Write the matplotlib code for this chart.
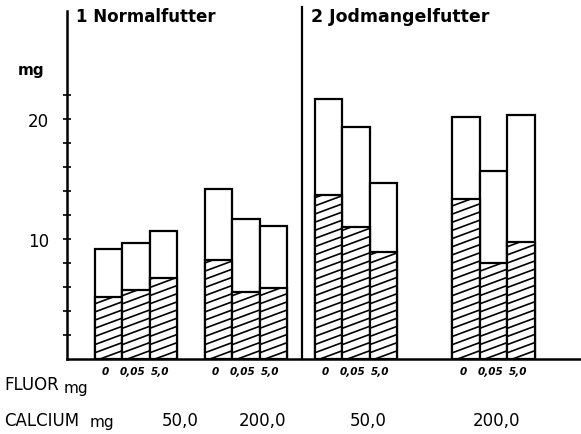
import numpy as np
import matplotlib
matplotlib.use("Agg")
import matplotlib.pyplot as plt

# ---- data (mg) ----
groups = ["Normal Ca50", "Normal Ca200", "Jod Ca50", "Jod Ca200"]
fluor_labels = ["0", "0,05", "5,0"]
calcium_labels = ["50,0", "200,0", "50,0", "200,0"]
total_normal_50 = [9.2, 9.7, 10.7]
hatch_normal_50 = [5.2, 5.75, 6.75]
total_normal_200 = [14.2, 11.7, 11.1]
hatch_normal_200 = [8.25, 5.6, 5.9]
total_jod_50 = [21.7, 19.3, 14.7]
hatch_jod_50 = [13.7, 11.0, 8.9]
total_jod_200 = [20.2, 15.7, 20.3]
hatch_jod_200 = [13.3, 8.0, 9.75]
panel_titles = ["1 Normalfutter", "2 Jodmangelfutter"]

totals = [total_normal_50, total_normal_200, total_jod_50, total_jod_200]
hatches = [hatch_normal_50, hatch_normal_200, hatch_jod_50, hatch_jod_200]

# layout (in bar-width units)
group_start = [1, 5, 9, 14]
W, H = 581, 435
fig = plt.figure(figsize=(W / 100, H / 100), dpi=100)
ax = fig.add_axes([67 / W, (H - 360) / H, (W - 67) / W, 348 / H])
ax.set_xlim(0, (W - 67) / 27.5)
ax.set_ylim(0, 29)

LW = 1.6
for gi, (tot, hat) in enumerate(zip(totals, hatches)):
    xs = group_start[gi] + np.arange(3) + 0.5
    ax.bar(xs, tot, width=1.0, facecolor="white", edgecolor="black", linewidth=LW, zorder=2)
    rects = ax.bar(xs, hat, width=1.0, facecolor="white", edgecolor="black", linewidth=LW, zorder=3)
    # shallow diagonal hatching clipped to each hatched rectangle
    slope, spacing = 0.85, 0.68
    for r in rects:
        x0, w_, h_ = r.get_x(), r.get_width(), r.get_height()
        for c in np.arange(-slope * w_, h_ + spacing, spacing):
            ln, = ax.plot([x0, x0 + w_], [c, c + slope * w_], color="black", lw=1.2, zorder=3.5)
            ln.set_clip_path(r)
    for k, lab in enumerate(fluor_labels):
        ax.text(xs[k] - 0.1, -0.6, lab, ha="center", va="top", fontsize=7.5,
                fontweight="bold", style="italic", clip_on=False)

# spines
for s in ["top", "right"]:
    ax.spines[s].set_visible(False)
ax.spines["left"].set_linewidth(1.8)
ax.spines["bottom"].set_linewidth(1.8)
ax.set_yticks(np.arange(2, 24, 2))
ax.set_yticklabels(["" if v not in (10, 20) else str(v) for v in np.arange(2, 24, 2)], fontsize=12)
ax.tick_params(axis="y", direction="inout", length=6, width=1.2, pad=10)
ax.set_xticks([])

# separator between panels
ax.plot([8.55, 8.55], [0, 29.3], color="black", lw=1.6, clip_on=False)

def ftext(x, y, s, **kw):
    fig.text(x / W, 1 - y / H, s, **kw)

ftext(76, 17, panel_titles[0], fontsize=12, fontweight="bold", va="center", ha="left")
ftext(311, 17, panel_titles[1], fontsize=12.5, fontweight="bold", va="center", ha="left")
ftext(18, 70, "mg", fontsize=11, fontweight="bold", va="center", ha="left")
ftext(4, 385, "FLUOR", fontsize=12, va="center", ha="left")
ftext(64, 388, "mg", fontsize=11, va="center", ha="left")
ftext(4, 421, "CALCIUM", fontsize=12, va="center", ha="left")
ftext(90, 423, "mg", fontsize=11, va="center", ha="left")
cal_x = [180, 263, 368, 497]
for cx, lab in zip(cal_x, calcium_labels):
    ftext(cx, 421, lab, fontsize=12, va="center", ha="center")

fig.savefig("out.png", dpi=100)
